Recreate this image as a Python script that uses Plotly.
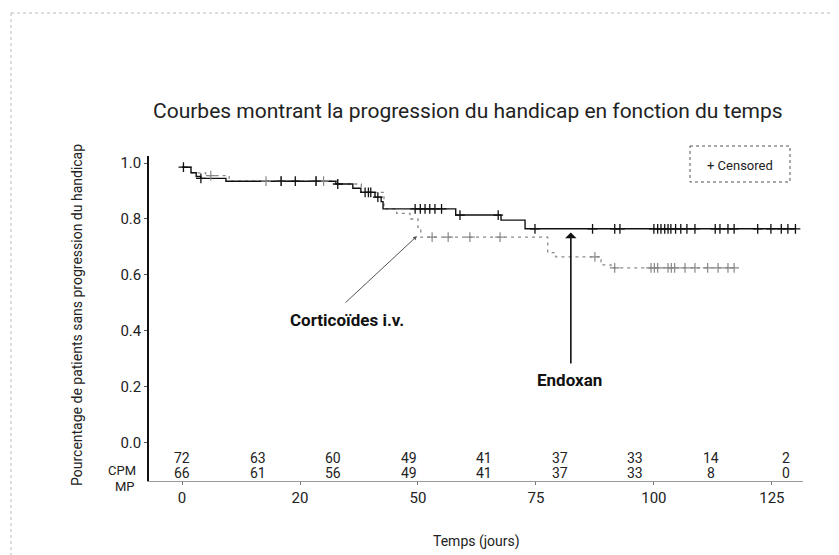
import numpy as np
import plotly.graph_objects as go

# ---------------- data ----------------
endoxan_t = [0, 1.9, 3.0, 4.0, 9.3, 32.6, 36.2, 37.9, 40.9, 42.2, 42.6, 58, 67.6, 72.7, 130]
endoxan_v = [0.985, 0.965, 0.952, 0.945, 0.935, 0.925, 0.91, 0.895, 0.878, 0.862, 0.836, 0.814, 0.796, 0.765, 0.765]
endoxan_cens = [0.3, 4, 21, 24, 28.4, 33, 38.8, 39.5, 40, 41.5, 49.4, 50.5, 51.5, 52.5, 53.6, 55, 58.9,
                67, 74.8, 87, 91.7, 92.8, 100, 100.8, 101.5, 102.3, 103, 103.6, 104.6, 105.7, 107, 108.7,
                113, 114, 115.7, 117, 122, 124.8, 127, 128.4, 130]

cortic_t = [0, 2, 5, 10, 33, 38, 42.8, 45.5, 48.3, 50, 50.6, 77.5, 79.2, 88.8, 90.9, 117]
cortic_v = [0.985, 0.965, 0.955, 0.935, 0.925, 0.895, 0.836, 0.82, 0.80, 0.77, 0.735, 0.68, 0.665, 0.636, 0.625, 0.625]
cortic_cens = [6.1, 17.8, 21, 28.4, 30, 53, 56.4, 61, 67.4, 87.5, 91.7, 99.4, 100.1, 100.8, 103, 103.7,
               104.4, 106.6, 108.7, 111.4, 113.6, 115.7, 117]

risk_times = [0, 16, 32, 48, 64, 80, 96, 112, 128]
risk_cpm = [72, 63, 60, 49, 41, 37, 33, 14, 2]
risk_mp = [66, 61, 56, 49, 41, 37, 33, 8, 0]

x_tickvals = [0, 25, 50, 75, 100, 125]
x_ticktext = ["0", "20", "50", "75", "100", "125"]
y_tickvals = [0, 0.2, 0.4, 0.6, 0.8, 1.0]
y_ticktext = ["0.0", "0.2", "0.4", "0.6", "0.8", "1.0"]

title = "Courbes montrant la progression du handicap en fonction du temps"
ytitle = "Pourcentage de patients sans progression du handicap"
xtitle = "Temps (jours)"

# ---------------- layout helpers ----------------
W, H = 839, 555
L, R, T, B = 141, 795, 148, 473
XR = [-7, 131.6]
YR = [-0.136, 1.025]
FONT2 = "Roboto, sans-serif"


def px(x):
    return (x - L) / (R - L)


def py(y):
    return (B - y) / (B - T)


def step_val(ts, vs, t):
    i = np.searchsorted(np.array(ts), t, side="right") - 1
    return vs[max(i, 0)]


fig = go.Figure()

fig.add_trace(go.Scatter(x=cortic_t, y=cortic_v, mode="lines", line_shape="hv",
                         line=dict(color="#8a8a8a", width=1.3, dash="3px,4px"), showlegend=False))
fig.add_trace(go.Scatter(x=endoxan_t, y=endoxan_v, mode="lines", line_shape="hv",
                         line=dict(color="#111111", width=1.4), showlegend=False))
fig.add_trace(go.Scatter(x=cortic_cens, y=[step_val(cortic_t, cortic_v, t) for t in cortic_cens],
                         mode="markers",
                         marker=dict(symbol="cross-thin-open", size=7, color="#888888",
                                     line=dict(color="#888888", width=1.2)),
                         showlegend=False))
fig.add_trace(go.Scatter(x=endoxan_cens, y=[step_val(endoxan_t, endoxan_v, t) for t in endoxan_cens],
                         mode="markers",
                         marker=dict(symbol="cross-thin-open", size=7, color="#111111",
                                     line=dict(color="#111111", width=1.3)),
                         showlegend=False))

ann = []
# title
ann.append(dict(xref="paper", yref="paper", x=px(460), y=py(103), text=title, showarrow=False,
                font=dict(family=FONT2, size=21, color="#222"), xanchor="center", yanchor="middle"))
# axis titles
ann.append(dict(xref="paper", yref="paper", x=px(69), y=py(307), text=ytitle, showarrow=False, textangle=-90,
                font=dict(family=FONT2, size=14, color="#222"), xanchor="center", yanchor="middle"))
ann.append(dict(xref="paper", yref="paper", x=px(468), y=py(533), text=xtitle, showarrow=False,
                font=dict(family=FONT2, size=14, color="#222"), xanchor="center", yanchor="middle"))
# numbers at risk
for t, a, b in zip(risk_times, risk_cpm, risk_mp):
    ann.append(dict(xref="x", yref="y", x=t, y=-0.054, text=str(a), showarrow=False,
                    font=dict(family=FONT2, size=14, color="#222"), xanchor="center", yanchor="middle"))
    ann.append(dict(xref="x", yref="y", x=t, y=-0.108, text=str(b), showarrow=False,
                    font=dict(family=FONT2, size=14, color="#222"), xanchor="center", yanchor="middle"))
ann.append(dict(xref="paper", yref="paper", x=px(130), y=py(462), text="CPM", showarrow=False,
                font=dict(family=FONT2, size=13, color="#222"), xanchor="right", yanchor="middle"))
ann.append(dict(xref="paper", yref="paper", x=px(129), y=py(478), text="MP", showarrow=False,
                font=dict(family=FONT2, size=13, color="#222"), xanchor="right", yanchor="middle"))


# arrows (tail offsets computed in pixels relative to the tip)
def data_px(xv, yv):
    return (L + (xv - XR[0]) / (XR[1] - XR[0]) * (R - L),
            B - (yv - YR[0]) / (YR[1] - YR[0]) * (B - T))


cx, cy = 49.8, 0.739
cpx, cpy = data_px(cx, cy)
ann.append(dict(xref="x", yref="y", x=cx, y=cy, ax=336 - cpx, ay=296 - cpy,
                text="", showarrow=True, arrowhead=2, arrowsize=0.8, arrowwidth=1, arrowcolor="#555"))
ex, ey = 82.4, 0.752
epx, epy = data_px(ex, ey)
ann.append(dict(xref="x", yref="y", x=ex, y=ey, ax=0, ay=357 - epy, text="", showarrow=True,
                arrowhead=1, arrowsize=1.2, arrowwidth=1.6, arrowcolor="#111"))
ann.append(dict(xref="paper", yref="paper", x=px(339), y=py(312), text="<b>Corticoïdes i.v.</b>",
                showarrow=False, font=dict(family=FONT2, size=17, color="#111"),
                xanchor="center", yanchor="middle"))
ann.append(dict(xref="paper", yref="paper", x=px(561), y=py(372), text="<b>Endoxan</b>",
                showarrow=False, font=dict(family=FONT2, size=17, color="#111"),
                xanchor="center", yanchor="middle"))
# legend box
ann.append(dict(xref="paper", yref="paper", x=px(732), y=py(157), text="+ Censored", showarrow=False,
                font=dict(family=FONT2, size=13, color="#222"), xanchor="center", yanchor="middle"))

shapes = [
    dict(type="rect", xref="paper", yref="paper", x0=px(682), x1=px(782), y0=py(138), y1=py(174),
         line=dict(color="#555", width=1, dash="dot")),
    dict(type="line", xref="paper", yref="paper", x0=px(3), x1=px(839), y0=py(5), y1=py(5),
         line=dict(color="#bbbbbb", width=1, dash="dot")),
    dict(type="line", xref="paper", yref="paper", x0=px(3), x1=px(3), y0=py(5), y1=py(555),
         line=dict(color="#bbbbbb", width=1, dash="dot")),
]

fig.update_layout(
    width=W, height=H,
    margin=dict(l=L, r=W - R, t=T, b=H - B),
    paper_bgcolor="white", plot_bgcolor="white",
    annotations=ann, shapes=shapes, showlegend=False,
    xaxis=dict(range=XR, tickvals=x_tickvals, ticktext=x_ticktext, showgrid=False, zeroline=False,
               showline=True, linecolor="#9a9a9a", linewidth=1, ticks="outside", ticklen=3,
               tickcolor="#777", tickfont=dict(family=FONT2, size=15, color="#222")),
    yaxis=dict(range=YR, tickvals=y_tickvals, ticktext=y_ticktext, showgrid=False,
               zeroline=False, showline=True, linecolor="#111", linewidth=1.5, ticks="outside",
               ticklen=3, tickcolor="#555", tickfont=dict(family=FONT2, size=15, color="#222")),
)

fig.write_html("out.html")
